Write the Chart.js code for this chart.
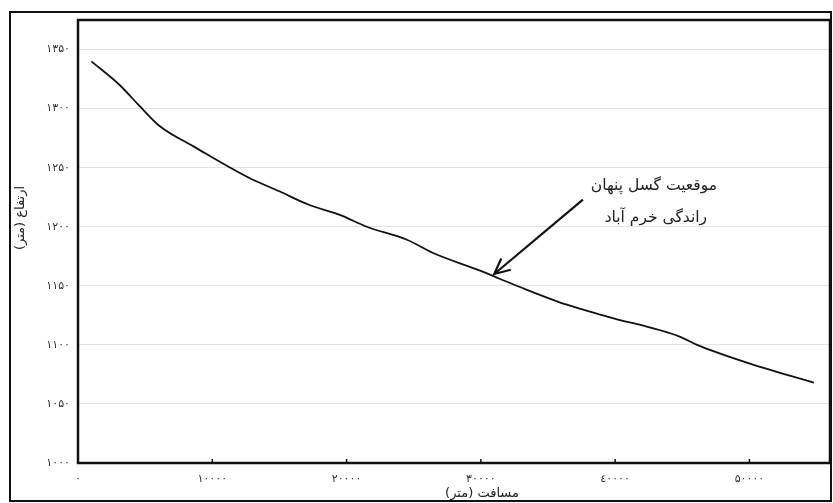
<!DOCTYPE html>
<html>
<head>
<meta charset="utf-8">
<script src="https://cdn.jsdelivr.net/npm/chart.js@4"></script>
<style>
  html, body { margin: 0; padding: 0; background: #fff; }
  #wrap { width: 833px; height: 503px; }
</style>
</head>
<body>
<div id="wrap"><canvas id="chart"></canvas></div>
<script>
// distance along profile (m) and elevation (m)
const distance = [1000, 3100, 4600, 6100, 8600, 12800, 15000, 17100, 19500, 21500, 24500, 26400, 29900, 31400, 32900, 36400, 39400, 44800, 46100, 49800, 54800];
const elevation = [1340, 1320, 1302, 1285, 1268, 1241, 1230, 1219, 1210, 1200, 1189, 1178, 1163, 1156, 1149, 1134, 1124, 1107, 1100, 1085, 1068];

const yTicks = [1000, 1050, 1100, 1150, 1200, 1250, 1300, 1350];
const xTicks = [0, 10000, 20000, 30000, 40000, 50000];

const yTitle = 'ارتفاع (متر)';
const xTitle = 'مسافت (متر)';
const noteLines = ['موقعیت گسل پنهان', 'راندگی خرم آباد'];
const notePoint = { x: 31000, y: 1160 };   // arrow tip
const noteTail = { x: 37600, y: 1223 };

const persianDigits = '۰۱۲۳٤۵۶۷۸۹';
const toFa = n => String(n).replace(/\d/g, d => persianDigits[d]);

const font = '"DejaVu Sans", sans-serif';

const frame = {
    id: 'frame',
    afterDraw(c) {
        const ctx = c.ctx;
        const a = c.chartArea;
        const sx = c.scales.x, sy = c.scales.y;
        ctx.save();
        // outer border
        ctx.strokeStyle = '#111';
        ctx.lineWidth = 2;
        ctx.strokeRect(10, 12, 821, 489);
        // plot box
        ctx.lineWidth = 2.5;
        ctx.strokeRect(a.left, a.top, a.right - a.left, a.bottom - a.top);
        // small inward ticks on x axis
        ctx.lineWidth = 1.5;
        xTicks.forEach(v => {
            const px = sx.getPixelForValue(v);
            ctx.beginPath();
            ctx.moveTo(px, a.bottom);
            ctx.lineTo(px, a.bottom - 4);
            ctx.stroke();
        });
        // x title
        ctx.fillStyle = '#222';
        ctx.font = '13px ' + font;
        ctx.textAlign = 'center';
        ctx.textBaseline = 'middle';
        ctx.fillText(xTitle, 482, 494);
        // y title
        ctx.save();
        ctx.translate(21, 218);
        ctx.rotate(-Math.PI / 2);
        ctx.fillText(yTitle, 0, 0);
        ctx.restore();
        // note arrow
        const tx = sx.getPixelForValue(notePoint.x), ty = sy.getPixelForValue(notePoint.y);
        const fx = sx.getPixelForValue(noteTail.x), fy = sy.getPixelForValue(noteTail.y);
        ctx.lineWidth = 2.2;
        ctx.beginPath();
        ctx.moveTo(fx, fy);
        ctx.lineTo(tx, ty);
        ctx.stroke();
        const ang = Math.atan2(ty - fy, tx - fx);
        ctx.beginPath();
        ctx.moveTo(tx - 17 * Math.cos(ang - 0.45), ty - 17 * Math.sin(ang - 0.45));
        ctx.lineTo(tx, ty);
        ctx.lineTo(tx - 17 * Math.cos(ang + 0.45), ty - 17 * Math.sin(ang + 0.45));
        ctx.stroke();
        // note text
        ctx.font = '15.5px ' + font;
        ctx.textAlign = 'right';
        ctx.fillText(noteLines[0], 717, 186);
        ctx.fillText(noteLines[1], 707, 218);
        ctx.restore();
    }
};

new Chart(document.getElementById('chart'), {
    type: 'line',
    data: {
        datasets: [{
            data: distance.map((d, i) => ({ x: d, y: elevation[i] })),
            borderColor: '#111',
            borderWidth: 1.8,
            pointRadius: 0,
            fill: false,
            cubicInterpolationMode: 'monotone'
        }]
    },
    options: {
        responsive: true,
        maintainAspectRatio: false,
        animation: false,
        layout: { padding: { left: 10, top: 20, right: 3, bottom: 0 } },
        plugins: {
            legend: { display: false },
            tooltip: { enabled: false }
        },
        scales: {
            x: {
                type: 'linear',
                min: 0,
                max: 56000,
                afterFit: s => { s.height = 40; },
                afterBuildTicks: s => { s.ticks = xTicks.map(v => ({ value: v })); },
                grid: { display: false },
                border: { display: false },
                ticks: {
                    color: '#333',
                    font: { family: font, size: 11 },
                    padding: 2,
                    maxRotation: 0,
                    callback: v => toFa(v)
                }
            },
            y: {
                min: 1000,
                max: 1375,
                afterFit: s => { s.width = 68; },
                afterBuildTicks: s => { s.ticks = yTicks.map(v => ({ value: v })); },
                grid: { color: '#e2e2e2', lineWidth: 1, drawTicks: false },
                border: { display: false },
                ticks: {
                    color: '#333',
                    font: { family: font, size: 11 },
                    padding: 8,
                    callback: v => toFa(v)
                }
            }
        }
    },
    plugins: [frame]
});
</script>
</body>
</html>
